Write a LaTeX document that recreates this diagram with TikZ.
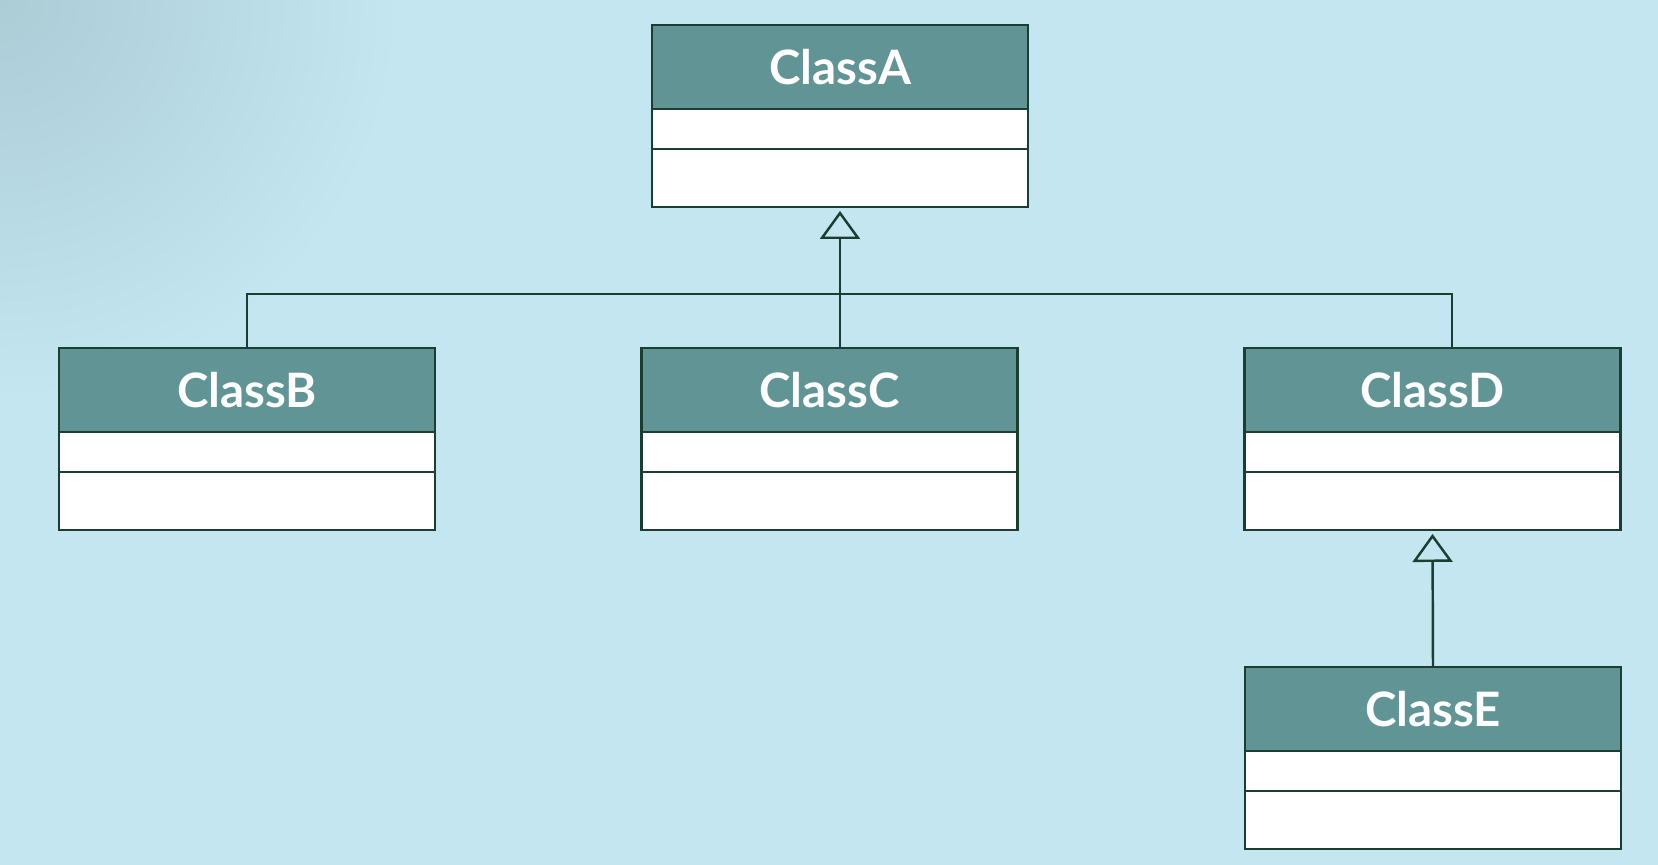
\documentclass[tikz,border=0pt]{standalone}
\usepackage{fontspec}
\setmainfont{Lato}
\usetikzlibrary{arrows.meta,positioning,calc}
\definecolor{umlteal}{RGB}{96,148,149}
\definecolor{umlline}{RGB}{28,62,48}
\definecolor{umlbg}{RGB}{195,230,241}
\definecolor{umlbgdark}{RGB}{172,204,214}

\begin{document}
\begin{tikzpicture}[
  x=0.02cm, y=-0.02cm,
  head/.style={draw=umlline,line width=1.4pt,outer sep=0pt,fill=umlteal,text=white,minimum width=7.52cm,minimum height=1.68cm,inner sep=0pt,font=\fontsize{27}{31}\selectfont\bfseries},
  attr/.style={draw=umlline,line width=1.4pt,outer sep=0pt,fill=white,minimum width=7.52cm,minimum height=0.8cm,inner sep=0pt},
  ops/.style={draw=umlline,line width=1.4pt,outer sep=0pt,fill=white,minimum width=7.52cm,minimum height=1.16cm,inner sep=0pt},
  link/.style={draw=umlline,line width=1.4pt},
  inherit/.style={link,shorten >=0.08cm,-{Triangle[open,length=0.56cm,width=0.8cm,line width=1.4pt]}}
]
  % background
  \useasboundingbox (0,0) rectangle (1658,865);
  \begin{scope}
    \clip (0,0) rectangle (1658,865);
    \fill[umlbg] (0,0) rectangle (1658,865);
    \shade[inner color=umlbgdark,outer color=umlbg] (0,0) circle (8cm);
  \end{scope}

  % classes
  \node[head] (aH) at (840,67) {ClassA};
  \node[attr,below=0pt of aH] (aA) {};
  \node[ops,below=0pt of aA] (aO) {};

  \node[head] (bH) at (247,390) {ClassB};
  \node[attr,below=0pt of bH] (bA) {};
  \node[ops,below=0pt of bA] (bO) {};

  \node[head] (cH) at (829.5,390) {ClassC};
  \node[attr,below=0pt of cH] (cA) {};
  \node[ops,below=0pt of cA] (cO) {};

  \node[head] (dH) at (1432.5,390) {ClassD};
  \node[attr,below=0pt of dH] (dA) {};
  \node[ops,below=0pt of dA] (dO) {};

  \node[head] (eH) at (1433,709) {ClassE};
  \node[attr,below=0pt of eH] (eA) {};
  \node[ops,below=0pt of eA] (eO) {};

  % inheritance
  \coordinate (bus) at (840,294);
  \path[link] (bH.north) |- (bus) -| ([xshift=0.39cm]dH.north);
  \draw[inherit] (cH.north -| aO.south) -- (aO.south);
  \draw[inherit] (eH.north) -- (dO.south);
\end{tikzpicture}
\end{document}
